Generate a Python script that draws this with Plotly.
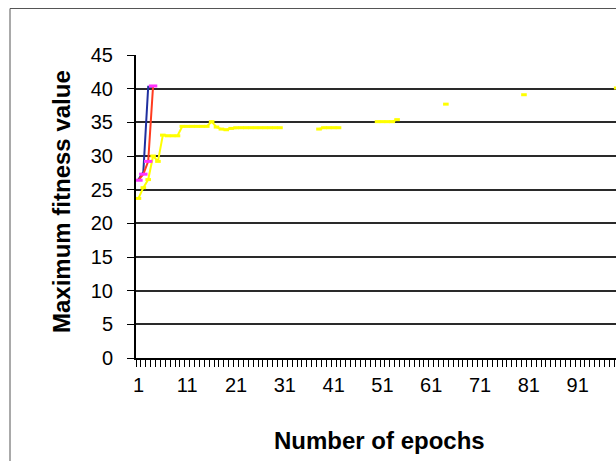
import plotly.graph_objects as go

# ---- data ----
blue_epochs = [1, 2, 3, 4]
blue_fitness = [26.5, 27.6, 40.3, 40.3]

red_epochs = [1, 2, 3, 4]
red_fitness = [26.4, 27.3, 29.2, 40.4]

yellow_epochs = [1, 2, 3, 4, 5, 6, 7, 8, 9, 10,
                 11, 12, 13, 14, 15, 16, 17, 18, 19, 20,
                 21, 22, 23, 24, 25, 26, 27, 28, 29, 30,
                 31,
                 38, 39, 40, 41, 42,
                 43,
                 50, 51, 52, 53, 54,
                 55,
                 64, 65,
                 80, 81,
                 99]
yellow_fitness = [23.7, 25.3, 26.5, 30.0, 29.2, 33.1, 33.0, 33.0, 33.0, 34.4,
                  34.4, 34.4, 34.4, 34.4, 34.4, 35.1, 34.3, 34.0, 33.9, 34.1,
                  34.2, 34.2, 34.2, 34.2, 34.2, 34.2, 34.2, 34.2, 34.2, 34.2,
                  None,
                  34.0, 34.2, 34.2, 34.2, 34.2,
                  None,
                  35.1, 35.1, 35.1, 35.1, 35.4,
                  None,
                  37.7, None,
                  39.1, None,
                  40.1]

x_tick_values = [1, 11, 21, 31, 41, 51, 61, 71, 81, 91]
x_tick_labels = ["1", "11", "21", "31", "41", "51", "61", "71", "81", "91"]
y_tick_values = [0, 5, 10, 15, 20, 25, 30, 35, 40, 45]

FONT = "Liberation Sans, Arial, sans-serif"

fig = go.Figure()

fig.add_trace(go.Scatter(
    x=yellow_epochs, y=yellow_fitness, mode="lines+markers",
    connectgaps=False,
    line=dict(color="#ffff00", width=2),
    marker=dict(symbol="line-ew", size=4, color="#ffff00",
                line=dict(color="#ffff00", width=3)),
    showlegend=False))

fig.add_trace(go.Scatter(
    x=blue_epochs, y=blue_fitness, mode="lines",
    line=dict(color="#1f2f9f", width=2),
    showlegend=False))

fig.add_trace(go.Scatter(
    x=red_epochs, y=red_fitness, mode="lines+markers",
    line=dict(color="#ff3b1f", width=2),
    marker=dict(symbol="line-ew", size=6, color="#ff33ff",
                line=dict(color="#ff33ff", width=3)),
    showlegend=False))

# plot area geometry: left 136, right 616, top 55, bottom 358
L, R, T, B = 136, 616, 55, 358
W, H = R - L, B - T

def px(xp):
    return (xp - L) / W

def py(yp):
    return (B - yp) / H

fig.update_layout(
    width=616, height=461,
    margin=dict(l=L, r=616 - R, t=T, b=461 - B, pad=0),
    paper_bgcolor="white", plot_bgcolor="white",
    font=dict(family=FONT, color="black", size=20),
    xaxis=dict(
        range=[0.5, 0.5 + W / 4.88],
        tickmode="array", tickvals=x_tick_values, ticktext=x_tick_labels,
        ticks="", showgrid=False, zeroline=False,
        showline=True, linecolor="black", linewidth=2,
        tickfont=dict(family=FONT, size=20, color="black"),
        ticklabelstandoff=8,
        minor=dict(tickmode="linear", tick0=0.5, dtick=1, ticks="outside",
                   ticklen=7, tickwidth=1, tickcolor="black", showgrid=False),
    ),
    yaxis=dict(
        range=[0, 45],
        tickmode="array", tickvals=y_tick_values,
        ticks="outside", ticklen=7, tickwidth=1, tickcolor="black",
        showgrid=True, gridcolor="#2a2a2a", gridwidth=1.6,
        zeroline=False,
        showline=True, linecolor="black", linewidth=2,
        tickfont=dict(family=FONT, size=20, color="black"),
        ticklabelstandoff=10,
    ),
    annotations=[
        dict(text="<b>Maximum fitness value</b>", xref="paper", yref="paper",
             x=px(61), y=py(202), xanchor="center", yanchor="middle",
             textangle=-90, showarrow=False,
             font=dict(family=FONT, size=24, color="black")),
        dict(text="<b>Number of epochs</b>", xref="paper", yref="paper",
             x=px(379), y=py(440), xanchor="center", yanchor="middle",
             showarrow=False,
             font=dict(family=FONT, size=24, color="black")),
    ],
    shapes=[
        dict(type="rect", xref="paper", yref="paper",
             x0=px(10), x1=px(800), y0=py(700), y1=py(8.5),
             line=dict(color="#555555", width=1), fillcolor="rgba(0,0,0,0)",
             layer="below"),
    ],
)

fig.write_html("out.html")
